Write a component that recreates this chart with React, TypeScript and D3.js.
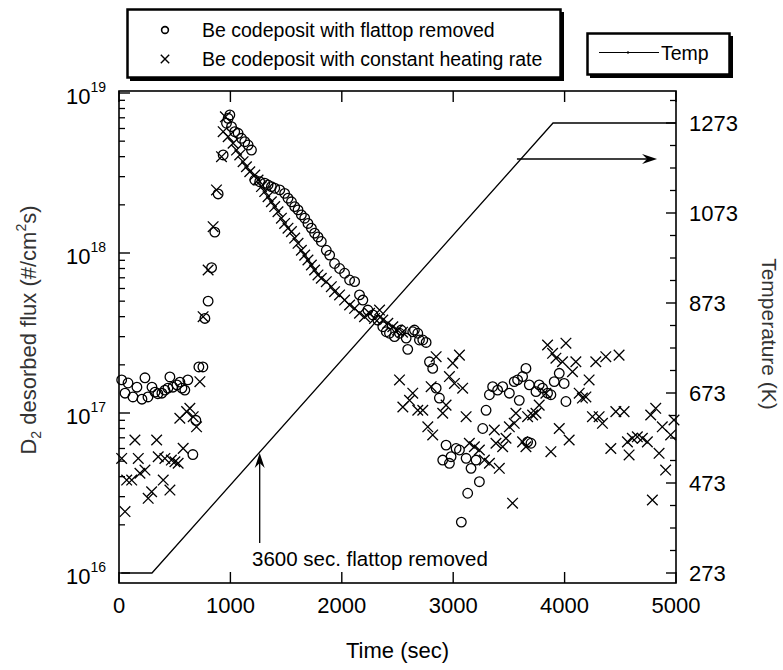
import React from "react";
import * as d3 from "d3";

// ---------- data ----------
const flattopTime = [24,54,81,125,161,206,233,260,296,323,349,385,412,439,457,484,520,547,565,591,618,663,690,717,753,771,800,831,860,890,935,965,980,995,1010,1039,1069,1099,1129,1159,1189,1219,1263,1308,1338,1368,1398,1443,1487,1517,1548,1577,1607,1637,1667,1696,1727,1756,1786,1816,1861,1891,1935,1980,2025,2070,2115,2159,2189,2234,2279,2323,2368,2399,2428,2473,2518,2533,2578,2592,2637,2652,2682,2697,2727,2757,2787,2816,2847,2876,2906,2936,2966,2981,3026,3056,3073,3116,3130,3160,3205,3235,3265,3295,3325,3354,3399,3444,3504,3548,3578,3593,3623,3653,3668,3683,3698,3743,3772,3802,3847,3877,3907,3952,3996,4012];
const flattopFlux = [1.61e17,1.33e17,1.54e17,1.26e17,1.45e17,1.22e17,1.66e17,1.26e17,1.45e17,1.35e17,1.32e17,1.33e17,1.39e17,1.43e17,1.68e17,1.45e17,1.5e17,1.56e17,1.43e17,1.39e17,1.61e17,5.5e16,9.0e16,1.94e17,1.94e17,3.9e17,5.0e17,8.1e17,1.35e18,2.34e18,4.1e18,6.47e18,6.95e18,7.29e18,6.16e18,5.73e18,5.6e18,5.21e18,4.96e18,4.73e18,4.4e18,2.86e18,2.79e18,2.73e18,2.66e18,2.6e18,2.54e18,2.48e18,2.36e18,2.2e18,2.09e18,1.95e18,1.86e18,1.73e18,1.65e18,1.53e18,1.43e18,1.33e18,1.26e18,1.18e18,1.04e18,9.7e17,8.6e17,8.0e17,7.47e17,6.78e17,6.62e17,5.47e17,5.08e17,4.4e17,4.1e17,3.81e17,3.46e17,3.22e17,3.15e17,3.0e17,3.15e17,3.3e17,2.94e17,2.5e17,3.22e17,3.3e17,3.15e17,2.86e17,2.86e17,2.76e17,2.09e17,1.9e17,1.43e17,1.24e17,5.08e16,6.3e16,4.85e16,5.33e16,6.0e16,5.87e16,2.08e16,5.21e16,3.15e16,4.51e16,5.08e16,3.72e16,8.0e16,1.04e17,1.3e17,1.46e17,1.39e17,1.46e17,1.33e17,1.57e17,1.61e17,1.2e17,1.69e17,1.9e17,6.6e16,1.5e17,6.47e16,1.36e17,1.5e17,1.43e17,1.33e17,1.3e17,1.57e17,1.77e17,1.53e17,1.18e17];

const constTime = [24,54,69,114,143,173,188,233,262,293,338,352,397,412,457,470,502,531,546,576,607,636,666,696,726,755,800,845,875,920,935,955,980,1024,1055,1084,1114,1144,1174,1219,1248,1279,1308,1338,1368,1398,1427,1458,1487,1517,1548,1577,1607,1637,1667,1696,1727,1756,1786,1816,1861,1906,1935,1980,2025,2070,2115,2159,2204,2249,2294,2339,2368,2413,2458,2500,2518,2545,2548,2608,2637,2682,2727,2772,2802,2816,2847,2906,2936,2966,2996,3011,3056,3085,3116,3145,3190,3235,3280,3325,3369,3384,3414,3444,3474,3504,3533,3548,3563,3623,3653,3668,3713,3743,3772,3832,3847,3877,3892,3922,3952,3981,4012,4041,4071,4101,4131,4160,4191,4220,4250,4280,4310,4340,4370,4415,4460,4489,4534,4564,4579,4608,4653,4698,4743,4773,4788,4818,4848,4877,4907,4952,4982];
const constFlux = [5.2e16,2.42e16,3.81e16,3.81e16,6.78e16,5.2e16,4.2e16,4.4e16,2.93e16,3.22e16,6.78e16,5.33e16,3.81e16,5.2e16,3.3e16,5.08e16,4.96e16,4.85e16,9.27e16,6.01e16,1.02e17,1.07e17,9.49e16,8.2e16,1.57e17,4.0e17,7.83e17,1.46e18,2.48e18,4.0e18,5.73e18,7.1e18,5.33e18,4.85e18,4.4e18,4.1e18,3.72e18,3.46e18,3.22e18,3.07e18,2.86e18,2.6e18,2.42e18,2.25e18,2.09e18,1.95e18,1.81e18,1.65e18,1.53e18,1.43e18,1.36e18,1.24e18,1.15e18,1.04e18,9.7e17,9.04e17,8.41e17,7.83e17,7.29e17,6.95e17,6.62e17,6.16e17,5.73e17,5.47e17,5.08e17,4.73e17,4.51e17,4.2e17,4.0e17,4.2e17,3.9e17,4.4e17,3.81e17,3.64e17,3.46e17,3.3e17,1.61e17,3.2e17,1.09e17,1.2e17,1.33e17,1.04e17,1.04e17,8.2e16,1.46e17,7.29e16,2.25e17,9.96e16,1.12e17,1.69e17,2.05e17,1.53e17,2.3e17,1.43e17,9.48e16,6.47e16,6.15e16,5.87e16,5.08e16,4.85e16,7.83e16,6.47e16,4.51e16,6.15e16,6.95e16,8.2e16,2.73e16,8.62e16,9.96e16,6.6e16,6.15e16,9.48e16,9.72e16,9.96e16,1.12e17,1.33e17,2.66e17,5.73e16,2.36e17,2.2e17,8.0e16,2.09e17,2.73e17,6.78e16,1.81e17,2.09e17,1.33e17,1.24e17,1.26e17,1.61e17,9.48e16,2.09e17,9.48e16,8.62e16,2.25e17,6.0e16,1.02e17,2.3e17,1.02e17,6.6e16,5.47e16,6.95e16,7.1e16,6.95e16,6.6e16,9.72e16,2.86e16,1.07e17,5.6e16,8.2e16,4.4e16,7.29e16,9.04e16];

const tempTime = [20, 296, 3896, 5000];
const tempK = [273, 273, 1273, 1273];

const xTicks = [0, 1000, 2000, 3000, 4000, 5000];
const fluxExponents = [16, 17, 18, 19];
const tempTicks = [273, 473, 673, 873, 1073, 1273];

const legendLabels = ["Be codeposit with flattop removed", "Be codeposit with constant heating rate"];
const tempLegendLabel = "Temp";
const annotationText = "3600 sec. flattop removed";
const arrowTime = 1263;     // vertical arrow position (s)
const arrowTempLevel = 1193; // horizontal arrow level (K)

// ---------- layout ----------
const W = 783, H = 670;
const L = 119, R = 676, T = 91, B = 583;
const FONT = "'Liberation Sans', Arial, Helvetica, sans-serif";

const x = d3.scaleLinear().domain([0, 5000]).range([L, R]);
const y = d3.scaleLog().domain([Math.pow(10, 15.9375), Math.pow(10, 19.0125)]).range([B, T]);
const yT = d3.scaleLinear().domain([250.78, 1344.1]).range([B, T]);
const tempAt = d3.scaleLinear().domain(tempTime).range(tempK);
const rampTime = d3.scaleLinear().domain([273, 1273]).range([296, 3896]);

const minorFlux: number[] = [];
[16, 17, 18].forEach((e) => { for (let m = 2; m <= 9; m++) minorFlux.push(m * Math.pow(10, e)); });
const minorTemp: number[] = d3.range(323, 1340, 50).filter((v) => (v - 273) % 200 !== 0);

function Cross({ cx, cy, s, sw }: { cx: number; cy: number; s: number; sw: number }) {
  return <path d={`M${cx - s},${cy - s}L${cx + s},${cy + s}M${cx - s},${cy + s}L${cx + s},${cy - s}`} stroke="#000" strokeWidth={sw} fill="none" />;
}

export default function App() {
  const tempLine = d3.line<number>().x((_, i) => x(tempTime[i])).y((d) => yT(d))(tempK) || "";

  // annotation arrows
  const hx0 = x(rampTime(arrowTempLevel)) - 4;
  const hx1 = x(4830);
  const hy = yT(arrowTempLevel);
  const vx = x(arrowTime);
  const vTip = yT(tempAt(arrowTime)) + 1;
  const vBase = 543;

  return (
    <svg width={W} height={H} style={{ display: "block", position: "absolute", left: 0, top: 0 }} fontFamily={FONT}>
      <rect x={0} y={0} width={W} height={H} fill="#fff" />

      {/* legend 1 */}
      <rect x={130} y={12} width={434} height={69} fill="#000" />
      <rect x={127.5} y={9.5} width={433} height={68} fill="#fff" stroke="#000" strokeWidth={2.5} />
      <circle cx={165} cy={30} r={3.4} fill="none" stroke="#000" strokeWidth={1.6} />
      <Cross cx={165} cy={59} s={4.2} sw={1.4} />
      <text x={202} y={30} dy="0.35em" fontSize={19.5}>{legendLabels[0]}</text>
      <text x={202} y={59} dy="0.35em" fontSize={19.5}>{legendLabels[1]}</text>

      {/* legend 2 */}
      <rect x={590} y={36} width={143} height={42} fill="#000" />
      <rect x={587.5} y={33.5} width={142} height={41} fill="#fff" stroke="#000" strokeWidth={2.5} />
      <line x1={599} x2={659} y1={52.5} y2={52.5} stroke="#000" strokeWidth={1.2} />
      <rect x={627} y={51.5} width={2} height={2} fill="#000" />
      <text x={661} y={53} dy="0.35em" fontSize={19.5}>{tempLegendLabel}</text>

      {/* frame */}
      <rect x={L} y={T} width={R - L} height={B - T} fill="none" stroke="#000" strokeWidth={1.6} />

      {/* x ticks */}
      {xTicks.map((t) => (
        <g key={"xt" + t}>
          <line x1={x(t)} x2={x(t)} y1={B} y2={B - 11} stroke="#000" strokeWidth={1.4} />
          <line x1={x(t)} x2={x(t)} y1={T} y2={T + 11} stroke="#000" strokeWidth={1.4} />
          <text x={x(t)} y={613} textAnchor="middle" fontSize={22}>{t}</text>
        </g>
      ))}

      {/* left log ticks */}
      {fluxExponents.map((e) => {
        const yy = y(Math.pow(10, e));
        return (
          <g key={"yt" + e}>
            <line x1={L} x2={L + 11} y1={yy} y2={yy} stroke="#000" strokeWidth={1.4} />
            <text x={106} y={yy + 11} textAnchor="end" fontSize={22}>
              10<tspan fontSize={14} dy={-12}>{e}</tspan>
            </text>
          </g>
        );
      })}
      {minorFlux.map((v) => (
        <line key={"ym" + v} x1={L} x2={L + 6} y1={y(v)} y2={y(v)} stroke="#000" strokeWidth={1.3} />
      ))}

      {/* right temperature ticks */}
      {tempTicks.map((k) => (
        <g key={"tt" + k}>
          <line x1={R} x2={R - 10} y1={yT(k)} y2={yT(k)} stroke="#000" strokeWidth={1.4} />
          <text x={689} y={yT(k)} dy="0.36em" fontSize={22}>{k}</text>
        </g>
      ))}
      {minorTemp.map((k) => (
        <line key={"tm" + k} x1={R} x2={R - 6} y1={yT(k)} y2={yT(k)} stroke="#000" strokeWidth={1.3} />
      ))}

      {/* temperature line */}
      <path d={tempLine} fill="none" stroke="#000" strokeWidth={1.3} />

      {/* data: flattop removed (circles) */}
      {flattopTime.map((t, i) => (
        <circle key={"c" + i} cx={x(t)} cy={y(flattopFlux[i])} r={4.8} fill="none" stroke="#000" strokeWidth={1.3} />
      ))}
      {/* data: constant heating rate (crosses) */}
      {constTime.map((t, i) => (
        <Cross key={"x" + i} cx={x(t)} cy={y(constFlux[i])} s={5.3} sw={1.3} />
      ))}

      {/* annotations */}
      <line x1={hx0} x2={hx1 - 8} y1={hy} y2={hy} stroke="#000" strokeWidth={1.3} />
      <path d={`M${hx1},${hy}L${hx1 - 15},${hy - 5}L${hx1 - 10},${hy}L${hx1 - 15},${hy + 5}Z`} fill="#000" />
      <line x1={vx} x2={vx} y1={vBase} y2={vTip + 8} stroke="#000" strokeWidth={1.3} />
      <path d={`M${vx},${vTip}L${vx - 5},${vTip + 15}L${vx},${vTip + 10}L${vx + 5},${vTip + 15}Z`} fill="#000" />
      <text x={252} y={566} fontSize={20.5}>{annotationText}</text>

      {/* axis titles */}
      <text x={(L + R) / 2} y={658} textAnchor="middle" fontSize={22}>Time (sec)</text>
      <text transform="translate(36,330) rotate(-90)" textAnchor="middle" fontSize={22} fill="#333">
        D<tspan fontSize={14} dy={5}>2</tspan><tspan dy={-5}> desorbed flux (#/cm</tspan><tspan fontSize={14} dy={-10}>2</tspan><tspan dy={10}>s)</tspan>
      </text>
      <text transform="translate(762,334) rotate(90)" textAnchor="middle" fontSize={21} fill="#333">Temperature (K)</text>
    </svg>
  );
}
